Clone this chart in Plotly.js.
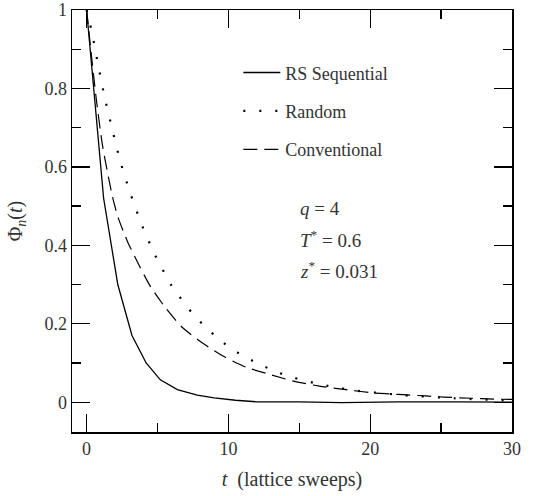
<!DOCTYPE html>
<html>
<head>
<meta charset="utf-8">
<script src="https://cdn.plot.ly/plotly-3.0.1.min.js"></script>
<style>
html,body{margin:0;padding:0;background:#fff;}
#chart{width:534px;height:496px;}
#chart text{font-family:"Liberation Serif","DejaVu Serif","Times New Roman",serif !important;}
</style>
</head>
<body>
<div id="chart"></div>
<script>
// RS Sequential (solid)
const seqT = [0, 1.2, 2.2, 3.2, 4.2, 5.2, 6.4, 7.8, 9, 10.5, 12, 15, 18, 22, 26, 30];
const seqV = [1, 0.52, 0.30, 0.17, 0.10, 0.057, 0.032, 0.018, 0.011, 0.005, 0.001, 0.001, -0.001, 0.001, 0.001, 0.0];

// Random (dotted)
const rndT = [0, 0.31, 0.77, 1.24, 1.78, 2.37, 3.07, 3.87, 4.83, 5.98, 7.38, 8.2, 9.04, 9.98, 10.99, 12.02, 13.14, 14.27, 15.37, 16.54, 17.71, 18.88, 20.05, 22.3, 25.9, 30];
const rndV = [1, 0.953, 0.868, 0.783, 0.70, 0.615, 0.534, 0.454, 0.375, 0.298, 0.230, 0.198, 0.170, 0.142, 0.119, 0.100, 0.081, 0.066, 0.055, 0.045, 0.037, 0.030, 0.0255, 0.018, 0.010, 0.004];

// Conventional (dashed)
const cnvT = [0, 0.66, 1.12, 1.83, 2.23, 2.88, 3.7, 4.52, 5.58, 6.74, 8.2, 9.75, 11.27, 12.9, 14.67, 16.42, 18.3, 20.1, 22, 23.9, 25.2, 27.1, 28.7, 30];
const cnvV = [1, 0.78, 0.655, 0.523, 0.47, 0.41, 0.349, 0.294, 0.24, 0.191, 0.150, 0.115, 0.089, 0.071, 0.053, 0.041, 0.032, 0.024, 0.0197, 0.016, 0.013, 0.010, 0.008, 0.007];

const seriesNames = ["RS Sequential", "Random", "Conventional"];
const xTickVals = [0, 10, 20, 30];
const yTickVals = [0, 0.2, 0.4, 0.6, 0.8, 1];
const yTickText = ["0", "0.2", "0.4", "0.6", "0.8", "1"];
const xRange = [-1.03, 30];
const yRange = [-0.076, 1];

const serif = "Liberation Serif";
const txtColor = "#333";

const traces = [
  {x: seqT, y: seqV, name: seriesNames[0], mode: "lines", legendgroup: "a",
   line: {color: "#000", width: 1.3, dash: "solid"}},
  {x: rndT, y: rndV, name: seriesNames[1], mode: "lines", legendgroup: "b", line: {shape: "spline", smoothing: 0.6,
   color: "#000", width: 2.2, dash: "2px,14px"}},
  {x: cnvT, y: cnvV, name: seriesNames[2], mode: "lines", legendgroup: "c", line: {shape: "spline", smoothing: 0.6,
   color: "#000", width: 1.2, dash: "14px,7px"}},
  {x: xRange, y: yRange, xaxis: "x2", yaxis: "y2", mode: "lines", line: {width: 0}, opacity: 0,
   showlegend: false, hoverinfo: "skip"}
];

const tickCommon = {
  showgrid: false, zeroline: false, showline: true, linecolor: "#000", linewidth: 1.5,
  ticks: "inside", ticklen: 18, tickwidth: 1.3, tickcolor: "#000",
  tickfont: {family: serif, size: 18, color: txtColor}
};

const layout = {
  width: 534, height: 496,
  font: {family: serif, size: 18, color: txtColor},
  margin: {l: 72, r: 22, t: 10, b: 64},
  paper_bgcolor: "#fff", plot_bgcolor: "#fff",
  showlegend: true,
  legend: {x: 0.378, y: 0.895, xanchor: "left", yanchor: "top", traceorder: "grouped",
    tracegroupgap: 12, itemwidth: 37, bgcolor: "rgba(0,0,0,0)",
    font: {family: serif, size: 18, color: txtColor}},
  xaxis: Object.assign({}, tickCommon, {
    range: xRange, tickmode: "array", tickvals: xTickVals, ticktext: xTickVals.map(String),
    minor: {dtick: 5, tick0: 0, ticklen: 9, tickwidth: 1.3, tickcolor: "#000", ticks: "inside"},
    title: {text: "<i>t</i>  (lattice sweeps)", font: {family: serif, size: 20, color: txtColor}, standoff: 14}
  }),
  yaxis: Object.assign({}, tickCommon, {
    range: yRange, tickmode: "array", tickvals: yTickVals, ticktext: yTickText,
    minor: {dtick: 0.1, tick0: 0, ticklen: 9, tickwidth: 1.3, tickcolor: "#000", ticks: "inside"},
    title: {text: "Φ<sub><i>n</i></sub>(<i>t</i>)", font: {family: serif, size: 20, color: txtColor}, standoff: 16}
  }),
  xaxis2: Object.assign({}, tickCommon, {
    overlaying: "x", side: "top", anchor: "y2", range: xRange, showticklabels: false,
    tickmode: "array", tickvals: xTickVals,
    minor: {dtick: 5, tick0: 0, ticklen: 9, tickwidth: 1.3, tickcolor: "#000", ticks: "inside"}
  }),
  yaxis2: Object.assign({}, tickCommon, {
    overlaying: "y", side: "right", anchor: "x2", range: yRange, showticklabels: false,
    tickmode: "array", tickvals: yTickVals,
    minor: {dtick: 0.1, tick0: 0, ticklen: 9, tickwidth: 1.3, tickcolor: "#000", ticks: "inside"}
  }),
  annotations: [
    {xref: "paper", yref: "paper", x: 0.513, y: 0.53, xanchor: "left", yanchor: "middle", showarrow: false,
     text: "<i>q</i> = 4", font: {family: serif, size: 19, color: txtColor}},
    {xref: "paper", yref: "paper", x: 0.513, y: 0.457, xanchor: "left", yanchor: "middle", showarrow: false,
     text: "<i>T</i><sup>*</sup> = 0.6", font: {family: serif, size: 19, color: txtColor}},
    {xref: "paper", yref: "paper", x: 0.513, y: 0.383, xanchor: "left", yanchor: "middle", showarrow: false,
     text: "<i>z</i><sup>*</sup> = 0.031", font: {family: serif, size: 19, color: txtColor}}
  ]
};

Plotly.newPlot("chart", traces, layout, {displayModeBar: false, staticPlot: true});
</script>
</body>
</html>
